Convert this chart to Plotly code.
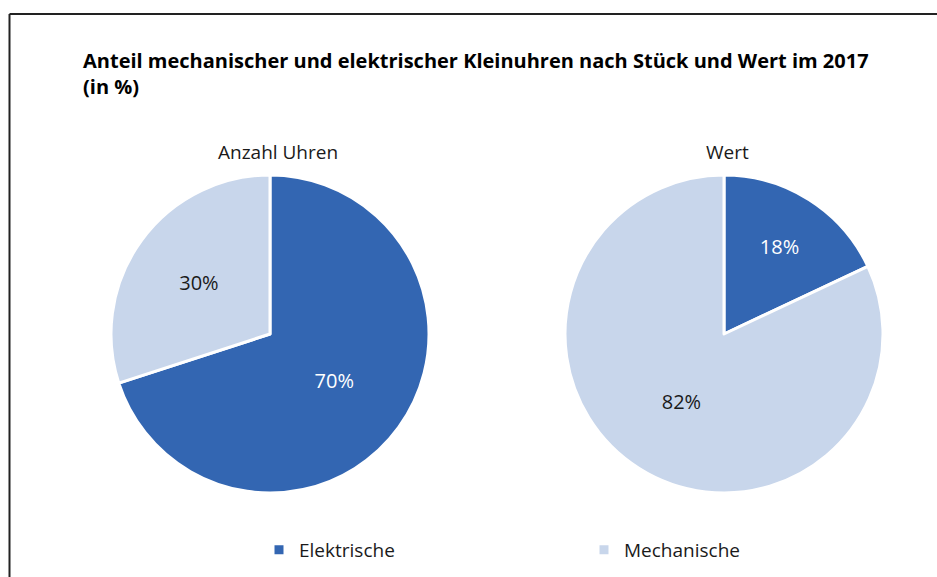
import plotly.graph_objects as go

W, H = 937, 577
labels = ["Elektrische", "Mechanische"]
anzahl_uhren = [70, 30]
wert = [18, 82]
pie_titles = ["Anzahl Uhren", "Wert"]
colors = ["#3366B2", "#C8D6EB"]
title = "Anteil mechanischer und elektrischer Kleinuhren nach Stück und Wert im 2017<br>(in %)"

FONT = "Open Sans"

def px_x(x):
    return x / W

def px_y(y):
    return 1 - y / H

fig = go.Figure()
domains = [
    dict(x=[px_x(111), px_x(429)], y=[px_y(493), px_y(175)]),
    dict(x=[px_x(565), px_x(883)], y=[px_y(493), px_y(175)]),
]
for i, vals in enumerate([anzahl_uhren, wert]):
    fig.add_trace(go.Pie(
        labels=labels, values=vals, sort=False, direction="clockwise", rotation=0,
        domain=domains[i],
        marker=dict(colors=colors, line=dict(color="white", width=3)),
        texttemplate="%{value}%", textposition="inside",
        insidetextfont=dict(color=["white", "#1a1a1a"], size=20, family=FONT),
        insidetextorientation="horizontal",
        showlegend=(i == 0), hoverinfo="label+percent",
    ))

annotations = [
    dict(text=pie_titles[0], x=px_x(278), y=px_y(152), xref="paper", yref="paper",
         showarrow=False, font=dict(size=19, family=FONT, color="#1a1a1a"), xanchor="center", yanchor="middle"),
    dict(text=pie_titles[1], x=px_x(727), y=px_y(152), xref="paper", yref="paper",
         showarrow=False, font=dict(size=19, family=FONT, color="#1a1a1a"), xanchor="center", yanchor="middle"),
    dict(text="<b>" + title + "</b>", x=px_x(81), y=px_y(45), xref="paper", yref="paper",
         showarrow=False, align="left", font=dict(size=20, family=FONT, color="black"),
         xanchor="left", yanchor="top"),
]

shapes = [
    dict(type="line", xref="paper", yref="paper", x0=px_x(9.5), x1=1.01, y0=px_y(14), y1=px_y(14),
         line=dict(color="#222", width=2)),
    dict(type="line", xref="paper", yref="paper", x0=px_x(9.5), x1=px_x(9.5), y0=px_y(14), y1=-0.01,
         line=dict(color="#222", width=2)),
]

fig.update_layout(
    width=W, height=H, margin=dict(l=0, r=0, t=0, b=0, autoexpand=False),
    paper_bgcolor="white", plot_bgcolor="white",
    annotations=annotations, shapes=shapes,
    legend=dict(orientation="h", x=px_x(259), y=px_y(550), xanchor="left", yanchor="middle",
                font=dict(size=19, family=FONT, color="#1a1a1a"),
                entrywidth=280, entrywidthmode="pixels", itemwidth=30, traceorder="normal"),
)
post = """
document.body.style.margin='0';
document.body.style.overflow='hidden';
"""
fig.write_html("out.html", post_script=post, config={"displayModeBar": False})
